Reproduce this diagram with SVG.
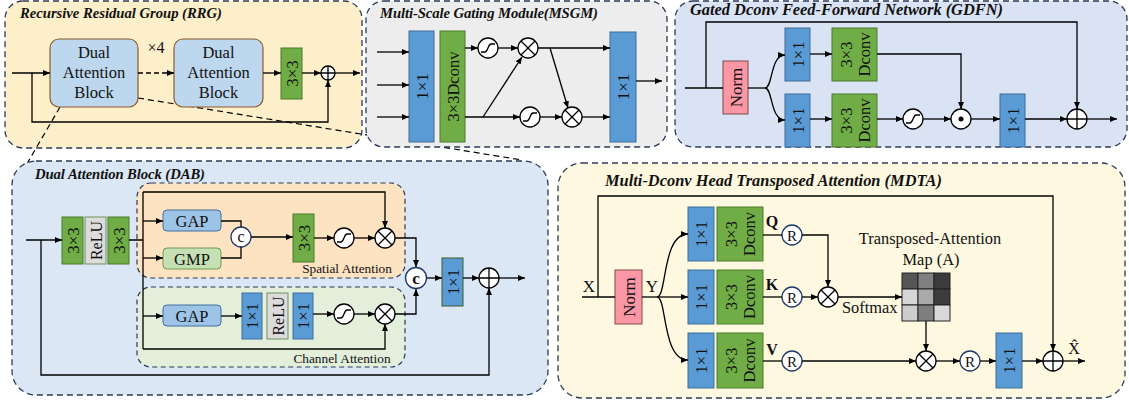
<svg xmlns="http://www.w3.org/2000/svg" width="1129" height="402" viewBox="0 0 1129 402">
<defs>
<marker id="ah" viewBox="0 0 7 6" refX="7" refY="3" markerWidth="7" markerHeight="6" markerUnits="userSpaceOnUse" orient="auto"><path d="M0,0 L7,3 L0,6 z" fill="#000"/></marker>
<style>
.pn{stroke:#2b3a58;stroke-width:1.3;stroke-dasharray:6,4}
.sp{stroke:#2b3a58;stroke-width:1.2;stroke-dasharray:5,3.5}
.ln{fill:none;stroke:#000;stroke-width:1.3}
.ar{marker-end:url(#ah)}
.bl{fill:#5b9bd5;stroke:#3e6d99;stroke-width:1}
.gr{fill:#70ad47;stroke:#4a7a2c;stroke-width:1}
.gy{fill:#dcdcdc;stroke:#6f8f5a;stroke-width:1}
.pk{fill:#fc97a6;stroke:#7a4a4a;stroke-width:1}
.ci{fill:#fff;stroke:#000;stroke-width:1.3}
.cn{fill:#fff;stroke:#1f3864;stroke-width:1.3}
.t{font-family:"Liberation Serif","Times New Roman",serif;fill:#111}
.ti{font-family:"Liberation Serif","Times New Roman",serif;font-weight:bold;font-style:italic;fill:#111}
.m{text-anchor:middle}
</style>
</defs>
<rect width="1129" height="402" fill="#fff"/>

<!-- RRG panel -->
<g id="rrg">
<rect x="5" y="1" width="357" height="147" rx="18" fill="#fcefc9" class="pn"/>
<text x="20" y="18" class="ti" font-size="14.7" textLength="202">Recursive Residual Group (RRG)</text>
</g>
<!-- zoom dashed lines -->
<g id="zoomlines" fill="none" stroke="#000" stroke-width="1.2" stroke-dasharray="6,4">
<path d="M60,107 L21,174"/>
<path d="M138,98 L522,160"/>
</g>
<g id="rrg-nodes">
<g id="dab1"><rect x="50" y="39" width="88" height="68" rx="9" fill="#bdd7ee" stroke="#8c5a2e" stroke-width="1.2"/>
<text class="t m" font-size="16.5" x="94" y="58">Dual</text><text class="t m" font-size="16.5" x="94" y="78">Attention</text><text class="t m" font-size="16.5" x="94" y="98">Block</text></g>
<g id="dab2"><rect x="174" y="39" width="89" height="68" rx="9" fill="#bdd7ee" stroke="#8c5a2e" stroke-width="1.2"/>
<text class="t m" font-size="16.5" x="218.5" y="58">Dual</text><text class="t m" font-size="16.5" x="218.5" y="78">Attention</text><text class="t m" font-size="16.5" x="218.5" y="98">Block</text></g>
<text class="t m" font-size="16" x="156" y="53">×4</text>
<g id="rrg-conv"><rect x="281" y="48" width="21" height="51" class="gr"/><text class="t m" font-size="17" transform="translate(291.5,73.5) rotate(-90)" dy="6">3×3</text></g>
<g id="rrg-add"><circle cx="328" cy="73" r="7" class="ci"/><path d="M321,73 H335 M328,66 V80" class="ln"/></g>
</g>

<!-- MSGM panel -->
<g id="msgm">
<rect x="366" y="1" width="301" height="146" rx="18" fill="#ededed" class="pn"/>
<text x="380" y="18" class="ti" font-size="14.7" textLength="218">Multi-Scale Gating Module(MSGM)</text>
<g id="msgm-c1"><rect x="409" y="31" width="25" height="111" class="bl"/><text class="t m" font-size="17" transform="translate(421.5,86.5) rotate(-90)" dy="6">1×1</text></g>
<g id="msgm-dc"><rect x="440" y="31" width="25" height="111" class="gr"/><text class="t m" font-size="16.5" transform="translate(452.5,86.5) rotate(-90)" dy="6">3×3Dconv</text></g>
<g id="msgm-s1"><circle cx="488" cy="48" r="10" class="ci"/><path d="M481,52 H485 C488,52 488,44 491,44 H495" class="ln"/></g>
<g id="msgm-m1"><circle cx="528" cy="48" r="10" class="ci"/><path d="M521,41 L535,55 M535,41 L521,55" class="ln"/></g>
<g id="msgm-s2"><circle cx="530" cy="117" r="10" class="ci"/><path d="M523,121 H527 C530,121 530,113 533,113 H537" class="ln"/></g>
<g id="msgm-m2"><circle cx="572" cy="117" r="10" class="ci"/><path d="M565,110 L579,124 M579,110 L565,124" class="ln"/></g>
<g id="msgm-c2"><rect x="610" y="32" width="26" height="110" class="bl"/><text class="t m" font-size="17" transform="translate(623,87) rotate(-90)" dy="6">1×1</text></g>
</g>

<!-- GDFN panel -->
<g id="gdfn">
<rect x="675" y="1" width="452" height="146" rx="18" fill="#dae3f3" class="pn"/>
<text x="690" y="15" class="ti" font-size="16.4" textLength="313">Gated Dconv Feed-Forward Network (GDFN)</text>
<g id="gdfn-norm"><rect x="723" y="61" width="25" height="53" class="pk"/><text class="t m" font-size="17" transform="translate(735.5,87.5) rotate(-90)" dy="6">Norm</text></g>
<g id="gdfn-c1"><rect x="785" y="28" width="25" height="53" class="bl"/><text class="t m" font-size="16.5" transform="translate(797.5,54.5) rotate(-90)" dy="6">1×1</text></g>
<g id="gdfn-c2"><rect x="785" y="94" width="25" height="53" class="bl"/><text class="t m" font-size="16.5" transform="translate(797.5,120.5) rotate(-90)" dy="6">1×1</text></g>
<g id="gdfn-d1"><rect x="832" y="28" width="45" height="53" class="gr"/><text class="t m" font-size="16.5" transform="translate(854.5,54.5) rotate(-90)"><tspan x="0" dy="-3">3×3</tspan><tspan x="0" dy="18">Dconv</tspan></text></g>
<g id="gdfn-d2"><rect x="832" y="94" width="45" height="53" class="gr"/><text class="t m" font-size="16.5" transform="translate(854.5,120.5) rotate(-90)"><tspan x="0" dy="-3">3×3</tspan><tspan x="0" dy="18">Dconv</tspan></text></g>
<g id="gdfn-s"><circle cx="913" cy="119" r="10" class="ci"/><path d="M906,123 H910 C913,123 913,115 916,115 H920" class="ln"/></g>
<g id="gdfn-dot"><circle cx="961" cy="119" r="10" class="ci"/><circle cx="961" cy="119" r="2.5" fill="#000"/></g>
<g id="gdfn-c3"><rect x="1000" y="94" width="25" height="53" class="bl"/><text class="t m" font-size="16.5" transform="translate(1012.5,120.5) rotate(-90)" dy="6">1×1</text></g>
<g id="gdfn-add"><circle cx="1077" cy="119" r="10" class="ci"/><path d="M1067,119 H1087 M1077,109 V129" class="ln"/></g>
</g>

<!-- DAB panel -->
<g id="dab">
<rect x="12" y="161" width="536" height="234" rx="24" fill="#dbe7f5" class="pn"/>
<text x="35" y="179" class="ti" font-size="14.7" textLength="170">Dual Attention Block (DAB)</text>
<rect x="137" y="183" width="268" height="95" rx="14" fill="#fde3c2" class="sp"/>
<rect x="137" y="287" width="268" height="80" rx="14" fill="#e3efdb" class="sp"/>
<text class="t m" font-size="13.3" x="347" y="273">Spatial Attention</text>
<text class="t m" font-size="13.3" x="342" y="363">Channel Attention</text>
<g id="dab-c1"><rect x="62" y="217" width="21" height="47" class="gr"/><text class="t m" font-size="17" transform="translate(72.5,240.5) rotate(-90)" dy="6">3×3</text></g>
<g id="dab-relu"><rect x="85" y="217" width="21" height="47" class="gy"/><text class="t m" font-size="16" transform="translate(95.5,240.5) rotate(-90)" dy="6">ReLU</text></g>
<g id="dab-c2"><rect x="108" y="217" width="21" height="47" class="gr"/><text class="t m" font-size="17" transform="translate(118.5,240.5) rotate(-90)" dy="6">3×3</text></g>
<g id="dab-gap1"><rect x="163" y="210" width="58" height="21" rx="4" fill="#9dc3e6" stroke="#41719c"/><text class="t m" font-size="16.5" x="192" y="226.5">GAP</text></g>
<g id="dab-gmp"><rect x="163" y="248" width="58" height="21" rx="4" fill="#c5e0b4" stroke="#6f9a51"/><text class="t m" font-size="16.5" x="192" y="264.5">GMP</text></g>
<g id="dab-cat1"><circle cx="241" cy="237" r="10" class="cn"/><text class="t m" font-size="16" x="241" y="242">c</text></g>
<g id="dab-c3"><rect x="293" y="214" width="21" height="48" class="gr"/><text class="t m" font-size="17" transform="translate(303.5,238) rotate(-90)" dy="6">3×3</text></g>
<g id="dab-s1"><circle cx="344" cy="238" r="10" class="ci"/><path d="M337,242 H341 C344,242 344,234 347,234 H351" class="ln"/></g>
<g id="dab-m1"><circle cx="385" cy="238" r="10" class="ci"/><path d="M378,231 L392,245 M392,231 L378,245" class="ln"/></g>
<g id="dab-gap2"><rect x="163" y="305" width="58" height="21" rx="4" fill="#9dc3e6" stroke="#41719c"/><text class="t m" font-size="16.5" x="192" y="321.5">GAP</text></g>
<g id="dab-c4"><rect x="242" y="293" width="20" height="46" class="bl"/><text class="t m" font-size="16.5" transform="translate(252,316) rotate(-90)" dy="6">1×1</text></g>
<g id="dab-relu2"><rect x="267" y="293" width="21" height="46" class="gy"/><text class="t m" font-size="16" transform="translate(277.5,316) rotate(-90)" dy="6">ReLU</text></g>
<g id="dab-c5"><rect x="293" y="293" width="20" height="46" class="bl"/><text class="t m" font-size="16.5" transform="translate(303,316) rotate(-90)" dy="6">1×1</text></g>
<g id="dab-s2"><circle cx="344" cy="314" r="10" class="ci"/><path d="M337,318 H341 C344,318 344,310 347,310 H351" class="ln"/></g>
<g id="dab-m2"><circle cx="385" cy="314" r="10" class="ci"/><path d="M378,307 L392,321 M392,307 L378,321" class="ln"/></g>
<g id="dab-cat2"><circle cx="416" cy="278" r="10.5" class="cn"/><text class="t m" font-size="17" font-weight="bold" x="416" y="283.5">c</text></g>
<g id="dab-c6"><rect x="442" y="258" width="21" height="48" fill="#5b9bd5" stroke="#3a5f27"/><text class="t m" font-size="16.5" transform="translate(452.5,282) rotate(-90)" dy="6">1×1</text></g>
<g id="dab-add"><circle cx="489" cy="278" r="10" class="ci"/><path d="M479,278 H499 M489,268 V288" class="ln"/></g>
</g>

<!-- MDTA panel -->
<g id="mdta">
<rect x="558" y="163" width="567" height="235" rx="24" fill="#fef8e0" class="pn"/>
<text x="605" y="186" class="ti" font-size="16.4" textLength="337">Multi-Dconv Head Transposed Attention (MDTA)</text>
<text class="t m" font-size="17" x="589" y="292">X</text>
<text class="t m" font-size="17" x="652" y="292">Y</text>
<g id="mdta-norm"><rect x="615" y="270" width="27" height="54" class="pk"/><text class="t m" font-size="17" transform="translate(628.5,297) rotate(-90)" dy="6">Norm</text></g>
<g id="mdta-q1"><rect x="688" y="207" width="26" height="54" class="bl"/><text class="t m" font-size="16.5" transform="translate(701,234) rotate(-90)" dy="6">1×1</text></g>
<g id="mdta-k1"><rect x="688" y="270" width="26" height="54" class="bl"/><text class="t m" font-size="16.5" transform="translate(701,297) rotate(-90)" dy="6">1×1</text></g>
<g id="mdta-v1"><rect x="688" y="333" width="26" height="55" class="bl"/><text class="t m" font-size="16.5" transform="translate(701,360.5) rotate(-90)" dy="6">1×1</text></g>
<g id="mdta-q2"><rect x="717" y="207" width="46" height="54" class="gr"/><text class="t m" font-size="16.5" transform="translate(740,234) rotate(-90)"><tspan x="0" dy="-3">3×3</tspan><tspan x="0" dy="18">Dconv</tspan></text></g>
<g id="mdta-k2"><rect x="717" y="270" width="46" height="54" class="gr"/><text class="t m" font-size="16.5" transform="translate(740,297) rotate(-90)"><tspan x="0" dy="-3">3×3</tspan><tspan x="0" dy="18">Dconv</tspan></text></g>
<g id="mdta-v2"><rect x="717" y="333" width="46" height="55" class="gr"/><text class="t m" font-size="16.5" transform="translate(740,360.5) rotate(-90)"><tspan x="0" dy="-3">3×3</tspan><tspan x="0" dy="18">Dconv</tspan></text></g>
<text class="t m" font-size="16" font-weight="bold" x="772" y="227">Q</text>
<text class="t m" font-size="16" font-weight="bold" x="772" y="290">K</text>
<text class="t m" font-size="16" font-weight="bold" x="772" y="355">V</text>
<g id="mdta-rq"><circle cx="792" cy="235" r="10" class="cn"/><text class="t m" font-size="15" x="792" y="240.5">R</text></g>
<g id="mdta-rk"><circle cx="792" cy="297" r="10" class="cn"/><text class="t m" font-size="15" x="792" y="302.5">R</text></g>
<g id="mdta-rv"><circle cx="792" cy="361" r="10" class="cn"/><text class="t m" font-size="15" x="792" y="366.5">R</text></g>
<g id="mdta-m1"><circle cx="828" cy="297" r="10" class="ci"/><path d="M821,290 L835,304 M835,290 L821,304" class="ln"/></g>
<text class="t" font-size="16.4" x="842" y="313">Softmax</text>
<text class="t m" font-size="16.4" x="930" y="244">Transposed-Attention</text>
<text class="t m" font-size="16.4" x="931" y="265">Map (A)</text>
<g id="mdta-map" stroke="#222" stroke-width="1">
<rect x="902" y="273" width="16" height="16" fill="#555"/><rect x="918" y="273" width="16" height="16" fill="#808080"/><rect x="934" y="273" width="16" height="16" fill="#3c3c3c"/>
<rect x="902" y="289" width="16" height="16" fill="#d6d6d6"/><rect x="918" y="289" width="16" height="16" fill="#aaa"/><rect x="934" y="289" width="16" height="16" fill="#3c3c3c"/>
<rect x="902" y="305" width="16" height="16" fill="#cdcdcd"/><rect x="918" y="305" width="16" height="16" fill="#7f7f7f"/><rect x="934" y="305" width="16" height="16" fill="#d9d9d9"/>
</g>
<g id="mdta-m2"><circle cx="926" cy="361" r="10" class="ci"/><path d="M919,354 L933,368 M933,354 L919,368" class="ln"/></g>
<g id="mdta-r2"><circle cx="970" cy="361" r="10" class="cn"/><text class="t m" font-size="15" x="970" y="366.5">R</text></g>
<g id="mdta-c"><rect x="996" y="333" width="26" height="55" class="bl"/><text class="t m" font-size="16.5" transform="translate(1009,360.5) rotate(-90)" dy="6">1×1</text></g>
<g id="mdta-add"><circle cx="1053" cy="361" r="10" class="ci"/><path d="M1043,361 H1063 M1053,351 V371" class="ln"/></g>
<text class="t m" font-size="16" x="1074" y="354">X̂</text>
</g>

<!-- connectors -->
<g id="connectors">
<!-- RRG -->
<path d="M12,73 H50" class="ln ar"/>
<path d="M138,73 H174" class="ln ar" stroke-dasharray="5,3"/>
<path d="M263,73 H281" class="ln ar"/>
<path d="M302,73 H321" class="ln ar"/>
<path d="M335,73 H360" class="ln ar"/>
<path d="M32,73 V122 H328 V80" class="ln ar"/>
<!-- MSGM -->
<path d="M377,52 H409" class="ln ar"/>
<path d="M377,85 H409" class="ln ar"/>
<path d="M377,117 H409" class="ln ar"/>
<path d="M465,48 H478" class="ln ar"/>
<path d="M498,48 H518" class="ln ar"/>
<path d="M538,48 H610" class="ln ar"/>
<path d="M465,117 H520" class="ln ar"/>
<path d="M540,117 H562" class="ln ar"/>
<path d="M582,117 H610" class="ln ar"/>
<path d="M483,117 L522,57" class="ln ar"/>
<path d="M550,48 L568,108" class="ln ar"/>
<path d="M636,81 H662" class="ln ar"/>
<!-- GDFN -->
<path d="M685,88 H723" class="ln"/>
<path d="M706,88 V22 H1077 V109" class="ln ar"/>
<path d="M748,88 H765" class="ln"/>
<path d="M765,88 C773,88 770,55 785,55" class="ln ar"/>
<path d="M765,88 C773,88 770,120 785,120" class="ln ar"/>
<path d="M810,54 H832" class="ln ar"/>
<path d="M810,119 H832" class="ln ar"/>
<path d="M877,54 H961 V109" class="ln ar"/>
<path d="M877,119 H903" class="ln ar"/>
<path d="M923,119 H951" class="ln ar"/>
<path d="M971,119 H1000" class="ln ar"/>
<path d="M1025,119 H1067" class="ln ar"/>
<path d="M1087,119 H1117" class="ln ar"/>
<!-- DAB -->
<path d="M26,240 H62" class="ln ar"/>
<path d="M41,240 V375 H489 V288" class="ln ar"/>
<path d="M129,240 H143 M143,192 V349" class="ln"/>
<path d="M143,192 H385 V228" class="ln ar"/>
<path d="M143,221 H163" class="ln ar"/>
<path d="M143,258 H163" class="ln ar"/>
<path d="M221,221 H241 V227 M221,258 H241 V247" class="ln"/>
<path d="M251,237 H293" class="ln ar"/>
<path d="M314,238 H334" class="ln ar"/>
<path d="M354,238 H375" class="ln ar"/>
<path d="M395,238 H416 V267" class="ln ar"/>
<path d="M143,316 H163" class="ln ar"/>
<path d="M221,316 H242" class="ln ar"/>
<path d="M313,314 H334" class="ln ar"/>
<path d="M354,314 H375" class="ln ar"/>
<path d="M143,349 H385 V324" class="ln ar"/>
<path d="M395,314 H416 V289" class="ln ar"/>
<path d="M427,278 H442" class="ln ar"/>
<path d="M463,278 H479" class="ln ar"/>
<path d="M499,278 H525" class="ln ar"/>
<!-- MDTA -->
<path d="M582,297 H615" class="ln"/>
<path d="M598,297 V196 H1053 V351" class="ln ar"/>
<path d="M642,297 H657" class="ln"/>
<path d="M657,297 C667,297 662,234 688,234" class="ln ar"/>
<path d="M657,297 H688" class="ln ar"/>
<path d="M657,297 C667,297 662,360 688,360" class="ln ar"/>
<path d="M763,235 H782" class="ln"/>
<path d="M763,297 H782" class="ln"/>
<path d="M763,361 H782" class="ln"/>
<path d="M802,235 H828 V287" class="ln ar"/>
<path d="M802,297 H818" class="ln ar"/>
<path d="M838,297 H902" class="ln ar"/>
<path d="M926,321 V351" class="ln ar"/>
<path d="M802,361 H916" class="ln ar"/>
<path d="M936,361 H960" class="ln ar"/>
<path d="M980,361 H996" class="ln ar"/>
<path d="M1022,361 H1043" class="ln ar"/>
<path d="M1063,361 H1085" class="ln ar"/>
</g>
</svg>
